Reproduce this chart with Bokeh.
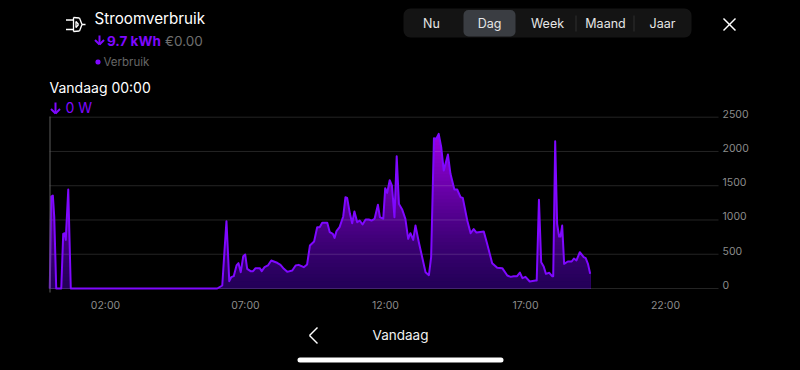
from bokeh.embed import file_html
from bokeh.resources import INLINE
from bokeh.plotting import figure
from bokeh.models import (Range1d, FixedTicker, Label, BoxAnnotation, Arrow, LinearAxis)
import numpy as np

hours = [0.01,0.06,0.12,0.17,0.24,0.42,0.49,0.54,0.58,0.67,0.76,5.99,6.17,6.25,6.32,6.37,6.42,6.49,6.58,6.68,6.75,6.83,6.92,6.99,7.06,7.18,7.27,7.36,7.51,7.58,7.68,7.80,7.92,8.01,8.13,8.25,
 8.37,8.49,8.67,8.79,8.90,9.08,9.20,9.30,9.45,9.56,9.65,9.74,9.92,10.01,10.12,10.18,10.25,10.36,10.49,10.57,10.63,10.73,10.81,10.89,10.99,11.08,11.18,11.29,11.40,11.50,11.61,11.73,11.80,11.92,11.99,12.06,12.15,12.23,12.32,12.40,12.48,12.60,12.71,12.81,12.89,12.99,13.07,13.19,13.31,13.43,13.55,13.63,13.73,13.81,13.90,13.99,14.08,14.23,14.32,14.46,14.56,14.68,14.76,14.92,15.04,15.15,15.25,15.51,15.63,15.81,15.99,16.17,16.35,16.47,
 16.58,16.70,16.80,16.89,17.00,17.15,17.36,17.40,17.48,17.56,17.65,17.73,17.85,17.95,17.99,18.06,18.13,18.20,18.25,18.31,18.38,18.51,18.65,18.73,18.82,18.94,19.08,19.15,19.23,19.31]
watts = [0,1342,1357,1041,0,0,798,807,710,1445,0,0,44,554,983,554,107,165,180,336,370,238,472,496,287,253,253,297,297,253,311,336,409,394,375,345,
 287,243,263,336,345,311,350,627,686,895,895,958,958,822,798,739,837,895,1051,1333,1323,1090,953,1124,968,992,934,1007,1007,992,1017,1221,1041,1017,1464,1396,1581,1503,1041,1931,1235,1148,1017,725,807,710,919,676,457,238,195,457,2194,2184,2257,2062,1722,1955,1673,1445,1445,1333,1323,992,807,866,817,832,652,370,302,297,190,170,
 180,180,233,151,170,102,117,117,1294,384,321,214,229,180,180,2150,944,759,759,919,360,394,394,438,409,530,457,443,360,214]
x_ticks = [2, 7, 12, 17, 22]
x_labels = ["02:00", "07:00", "12:00", "17:00", "22:00"]
y_ticks = [0, 500, 1000, 1500, 2000, 2500]
y_labels = ["0", "500", "1000", "1500", "2000", "2500"]
tabs = ["Nu", "Dag", "Week", "Maand", "Jaar"]

PURPLE = "#7f08ff"
FONT = "Inter"
W, H = 800, 370
FL, FB, FT, FR = 49, 288, 116.7, 718   # plot area edges in page pixels
HPX = 28.0                             # pixels per hour
WPP = 2500 / (FB - FT)                 # watts per pixel
LABEL_LIFT = 3.5                       # the value labels sit this many px above their lines

ystart, yend = -(H - FB) * WPP, FB * WPP
p = figure(width=W, height=H, output_backend="svg", toolbar_location=None,
           x_range=Range1d(-FL / HPX, (W - FL) / HPX),
           y_range=Range1d(ystart, yend),
           min_border=0, background_fill_color="#000000", border_fill_color="#000000",
           outline_line_color=None, x_axis_location=None, y_axis_location=None)
p.extra_y_ranges = {"labels": Range1d(ystart - LABEL_LIFT * WPP, yend - LABEL_LIFT * WPP)}
p.grid.visible = False

xend = (FR - FL) / HPX

xa = LinearAxis(fixed_location=0, ticker=FixedTicker(ticks=x_ticks),
                major_label_overrides={t: s for t, s in zip(x_ticks, x_labels)})
ya = LinearAxis(fixed_location=xend, y_range_name="labels", ticker=FixedTicker(ticks=y_ticks),
                major_label_overrides={t: s for t, s in zip(y_ticks, y_labels)})
for a in (xa, ya):
    a.axis_line_color = None
    a.major_tick_line_color = None
    a.minor_tick_line_color = None
    a.major_tick_out = 0
    a.major_tick_in = 0
    a.major_label_text_color = "#8c8c8c"
    a.major_label_text_font = FONT
xa.major_label_text_font_size = "10.5px"
ya.major_label_text_font_size = "10.5px"
xa.major_label_standoff = 10
ya.major_label_standoff = 4
p.add_layout(xa, "below")
p.add_layout(ya, "right")

# gradient fill: stacked areas, brightest first
fine_x = np.linspace(hours[0], hours[-1], 4000)
fine_y = np.interp(fine_x, hours, watts)
n = 44
top_col = np.array([160, 0, 232])
bot_col = np.array([36, 0, 88])
for i in range(n, 0, -1):
    cap = 2300 * i / n
    f = ((i - 0.5) / n) ** 1.25
    c = bot_col + (top_col - bot_col) * f
    p.varea(fine_x, np.zeros_like(fine_x), np.minimum(fine_y, cap),
            fill_color="#%02x%02x%02x" % tuple(int(v) for v in c))
p.segment(x0=[0] * len(y_ticks), x1=[xend] * len(y_ticks), y0=y_ticks, y1=y_ticks,
          line_color="#ffffff", line_alpha=0.14, line_width=1)
p.line(hours, watts, line_color=PURPLE, line_width=2, line_join="round")

def sx(px): return px
def sy(py): return H - py

def txt(px, py, s, size, color="#ffffff", align="left", weight="normal"):
    p.add_layout(Label(x=sx(px), y=sy(py), x_units="screen", y_units="screen", text=s,
                       text_font=FONT, text_font_size=f"{size}px", text_color=color,
                       text_align=align, text_baseline="middle", text_font_style=weight))

def stroke(x0, y0, x1, y1, color="#ffffff", w=1.5):
    p.add_layout(Arrow(end=None, x_start=sx(x0), y_start=sy(y0), x_end=sx(x1), y_end=sy(y1),
                       start_units="screen", end_units="screen", line_color=color, line_width=w))

def box(l, t, r, b, color, radius=0):
    p.add_layout(BoxAnnotation(left=sx(l), right=sx(r), top=sy(t), bottom=sy(b),
                               left_units="screen", right_units="screen", top_units="screen",
                               bottom_units="screen", fill_color=color, fill_alpha=1,
                               line_color=None, border_radius=radius, level="underlay"))

def down_arrow(x, y0, y1, color=PURPLE, w=2):
    stroke(x, y0, x, y1, color, w)
    stroke(x - 4.5, y1 - 4.5, x, y1, color, w)
    stroke(x + 4.5, y1 - 4.5, x, y1, color, w)

# left rule
stroke(49.5, 116, 49.5, 292, "#5c5c5c", 1)

# header
txt(94, 17.5, "Stroomverbruik", 15.2)
down_arrow(99, 35, 44)
txt(106.5, 40, "9.7 kWh", 13.5, PURPLE, weight="bold")
txt(164.5, 40, "€0.00", 13.5, "#6e6e6e")
box(95, 59, 100, 64, PURPLE, 2)
txt(103, 61.5, "Verbruik", 11.5, "#666666")
txt(49, 86.5, "Vandaag 00:00", 14)
down_arrow(55, 102, 113)
txt(65, 107, "0 W", 14, PURPLE)

# plug icon
for seg in [(65.5, 19.5, 73, 19.5), (65.5, 29, 73, 29), (73, 17, 73, 31), (73, 17, 79, 17.5),
            (73, 31, 79, 30.5), (79, 17.5, 81.5, 24), (81.5, 24, 79, 30.5), (81.5, 24, 85, 24),
            (75.5, 21, 75.5, 27), (75.5, 21, 78, 24), (78, 24, 75.5, 27)]:
    stroke(*seg, w=1.3)

# tab control
box(403, 8, 691, 37, "#141414", 7)
box(463, 9.5, 515, 36, "#3a3d42", 5)
stroke(575.5, 15, 575.5, 31, "#2e2e2e", 1)
stroke(633.5, 15, 633.5, 31, "#2e2e2e", 1)
for cx, name in zip([431, 489, 547, 605, 662], tabs):
    txt(cx, 23, name, 12.5, "#e6e6e6", align="center")

# close
stroke(723, 18, 735, 30)
stroke(735, 18, 723, 30)

# bottom
stroke(317, 327, 309, 335)
stroke(309, 335, 317, 343)
txt(400, 334.5, "Vandaag", 13.5, "#f0f0f0", align="center")
box(297, 357, 503, 362, "#ffffff", 3)

html = file_html(p, INLINE)
html = html.replace("<head>", "<head><style>html,body{background:#000000;overflow:hidden}</style>", 1)
open("out.html", "w").write(html)
